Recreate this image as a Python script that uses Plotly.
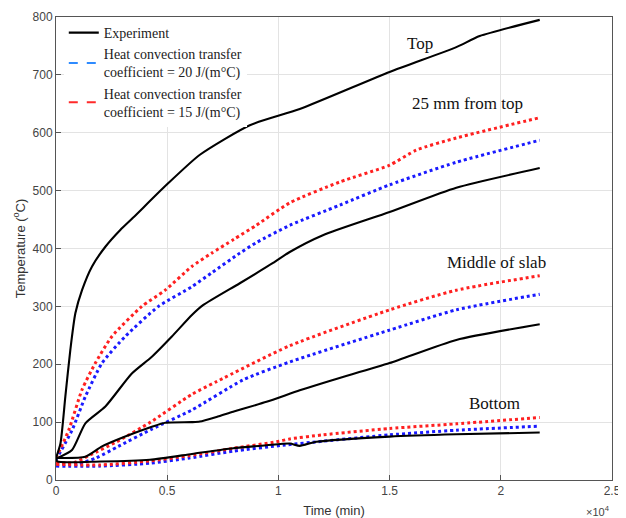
import plotly.graph_objects as go

# ---------------- data (time in min, temperature in °C) ----------------
top_exp_t = [0, 200, 420, 645, 870, 1170, 1620, 2220, 2890, 3460, 4970, 6470, 8715, 10960, 15000, 18000, 19050, 21750]
top_exp_T = [38, 63, 144, 225, 288, 328, 369, 403, 432, 453, 510, 562, 613, 641, 705, 748, 767, 795]

mm25_exp_t = [0, 720, 1320, 2220, 3410, 4310, 5210, 6110, 6610, 8265, 9760, 10510, 12000, 15000, 18000, 21750]
mm25_exp_T = [37, 52, 98, 127, 184, 213, 248, 285, 302, 340, 375, 394, 423, 463, 505, 539]

mm25_h15_t = [0, 570, 1170, 1770, 2515, 3860, 4910, 6110, 7000, 8000, 9000, 10510, 12760, 15000, 16200, 18000, 21750]
mm25_h15_T = [38, 86, 156, 202, 248, 300, 328, 369, 392, 416, 440, 479, 515, 544, 570, 591, 626]

mm25_h20_t = [0, 720, 1320, 2070, 3110, 4610, 6110, 7000, 8265, 9000, 10510, 12760, 15000, 18000, 21750]
mm25_h20_T = [35, 86, 144, 202, 248, 300, 334, 358, 392, 410, 440, 475, 510, 549, 587]

mid_exp_t = [0, 1320, 2070, 3110, 4310, 4910, 6110, 6470, 7220, 7965, 9465, 10960, 12450, 15000, 18000, 21750]
mid_exp_T = [38, 40, 58, 75, 92, 99, 100, 101, 109, 118, 135, 155, 173, 202, 242, 269]

mid_h15_t = [0, 800, 1530, 2725, 4250, 6110, 7220, 10510, 15000, 18000, 21750]
mid_h15_T = [30, 30, 43, 66, 100, 148, 170, 232, 294, 328, 353]

mid_h20_t = [0, 1000, 1800, 2800, 4310, 6110, 8414, 10510, 15000, 18000, 21750]
mid_h20_T = [28, 28, 38, 58, 88, 121, 173, 204, 259, 294, 321]

bot_exp_t = [0, 60, 2000, 4220, 6110, 7965, 9465, 10510, 10960, 11710, 15000, 18000, 21750]
bot_exp_T = [38, 32, 32, 35, 45, 55, 60, 63, 59, 66, 75, 79, 82]

bot_h15_t = [0, 2000, 4220, 6000, 8000, 9910, 10510, 12000, 15000, 18000, 21750]
bot_h15_T = [27, 26, 33, 42, 55, 66, 71, 78, 89, 97, 108]

bot_h20_t = [0, 2000, 4220, 6000, 8000, 10200, 12000, 15000, 18000, 21750]
bot_h20_T = [24, 24, 29, 38, 50, 60, 67, 78, 86, 93]

x_tickvals = [0, 5000, 10000, 15000, 20000, 25000]
x_ticktext = ["0", "0.5", "1", "1.5", "2", "2.5"]
y_tickvals = [0, 100, 200, 300, 400, 500, 600, 700, 800]

legend_names = ["Experiment",
                "Heat convection transfer<br>coefficient = 20 J/(m°C)",
                "Heat convection transfer<br>coefficient = 15 J/(m°C)"]

labels = ["Top", "25 mm from top", "Middle of slab", "Bottom"]
label_t = [16350, 18500, 19800, 19700]
label_T = [755, 651, 375, 133]

# ---------------- figure ----------------
BLACK = "#000000"
BLUE = "#1a1aff"
RED = "#ff2020"

fig = go.Figure()

sim20 = [(mm25_h20_t, mm25_h20_T), (mid_h20_t, mid_h20_T), (bot_h20_t, bot_h20_T)]
sim15 = [(mm25_h15_t, mm25_h15_T), (mid_h15_t, mid_h15_T), (bot_h15_t, bot_h15_T)]
exps = [(top_exp_t, top_exp_T), (mm25_exp_t, mm25_exp_T), (mid_exp_t, mid_exp_T), (bot_exp_t, bot_exp_T)]

for t, T in sim20:
    fig.add_trace(go.Scatter(x=t, y=T, mode="lines", showlegend=False,
                             line=dict(color=BLUE, width=3, dash="dot", shape="spline", smoothing=0.6)))
for t, T in sim15:
    fig.add_trace(go.Scatter(x=t, y=T, mode="lines", showlegend=False,
                             line=dict(color=RED, width=3, dash="dot", shape="spline", smoothing=0.6)))
for t, T in exps:
    fig.add_trace(go.Scatter(x=t, y=T, mode="lines", showlegend=False,
                             line=dict(color=BLACK, width=2.1, shape="spline", smoothing=0.6)))

# legend entries
fig.add_trace(go.Scatter(x=[None], y=[None], mode="lines", name=legend_names[0],
                         line=dict(color=BLACK, width=2.2)))
fig.add_trace(go.Scatter(x=[None], y=[None], mode="lines", name=legend_names[1],
                         line=dict(color="#2e8bff", width=2, dash="dash")))
fig.add_trace(go.Scatter(x=[None], y=[None], mode="lines", name=legend_names[2],
                         line=dict(color="#ff2a2a", width=2, dash="dash")))

for txt, tx, ty in zip(labels, label_t, label_T):
    fig.add_annotation(x=tx, y=ty, text=txt, showarrow=False,
                       font=dict(family="Liberation Serif, Times New Roman, serif", size=17, color="#111111"))

fig.add_annotation(xref="paper", yref="paper", x=1.0, y=-0.068, xanchor="right", yanchor="middle",
                   text="×10<sup>4</sup>", showarrow=False,
                   font=dict(family="Liberation Sans, Arial, sans-serif", size=11, color="#444444"))

axis_common = dict(showgrid=True, gridcolor="#e3e3e3", gridwidth=1, zeroline=False,
                   showline=True, linecolor="#555555", linewidth=1, mirror=True,
                   ticks="inside", ticklen=5, tickcolor="#555555", automargin=False,
                   tickfont=dict(family="Liberation Sans, Arial, sans-serif", size=12, color="#444444"))

fig.update_xaxes(range=[0, 25000], tickvals=x_tickvals, ticktext=x_ticktext,
                 title=dict(text="Time (min)", standoff=8,
                            font=dict(family="Liberation Sans, Arial, sans-serif", size=13, color="#333333")),
                 **axis_common)
fig.update_yaxes(range=[0, 800], tickvals=y_tickvals,
                 title=dict(text="Temperature (<sup>o</sup>C)", standoff=4,
                            font=dict(family="Liberation Sans, Arial, sans-serif", size=13, color="#333333")),
                 **axis_common)

# the page adds an 8px body margin, so the figure is sized 618x510
fig.update_layout(
    width=618, height=510,
    margin=dict(l=48, r=14, t=9, b=38, autoexpand=False),
    paper_bgcolor="white", plot_bgcolor="white",
    showlegend=True,
    legend=dict(x=0.014, y=1.0, xanchor="left", yanchor="top",
                bgcolor="rgba(255,255,255,1)", borderwidth=0,
                font=dict(family="Liberation Serif, Times New Roman, serif", size=14, color="#222222"),
                tracegroupgap=0, itemwidth=30),
)

fig.write_html("out.html")
